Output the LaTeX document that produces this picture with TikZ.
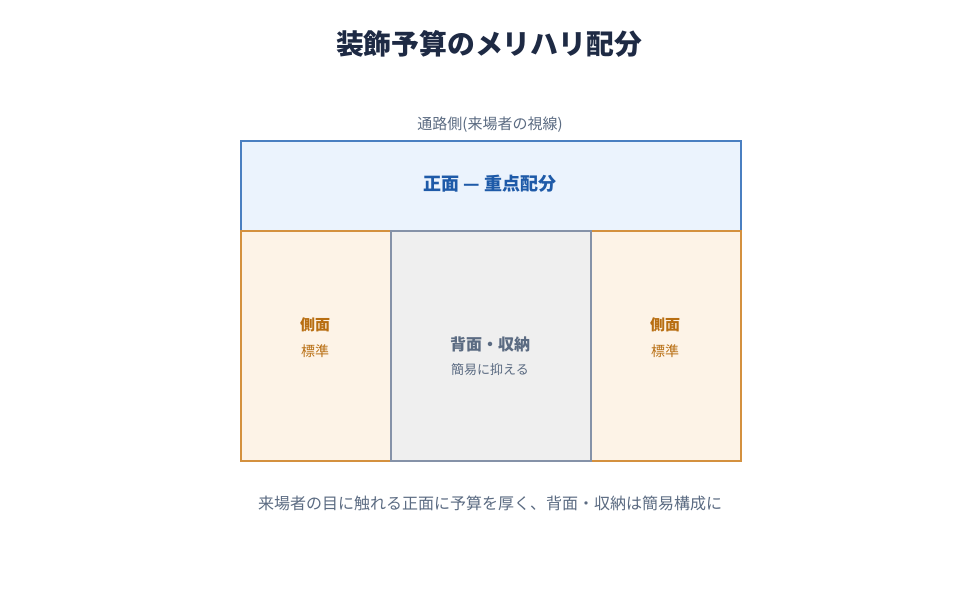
\documentclass[tikz,border=0pt]{standalone}
\usepackage{fontspec}
\setmainfont{Noto Sans CJK JP}
\definecolor{titlec}{HTML}{1E2A44}
\definecolor{grayt}{HTML}{5B6B82}
\definecolor{bluef}{HTML}{EBF3FD}
\definecolor{blues}{HTML}{4A7FC1}
\definecolor{bluet}{HTML}{1E5AA8}
\definecolor{orf}{HTML}{FDF3E7}
\definecolor{ors}{HTML}{D4913F}
\definecolor{ort}{HTML}{B86E12}
\definecolor{grf}{HTML}{EFEFEF}
\definecolor{grs}{HTML}{8592A8}
\tikzset{
  zone/.style={draw, line width=1.8pt, anchor=north west, inner sep=0pt},
  frontzone/.style={zone, fill=bluef, draw=blues},
  sidezone/.style={zone, fill=orf, draw=ors},
  backzone/.style={zone, fill=grf, draw=grs},
  txt/.style={inner sep=0pt, anchor=center},
}
\begin{document}
\begin{tikzpicture}[x=1pt,y=-1pt]
\useasboundingbox[fill=white] (0,0) rectangle (980,600);
\node[txt, text=titlec, font=\bfseries\fontsize{27.8}{30}\selectfont] (title) at (489,44) {装飾予算のメリハリ配分};
\node[txt, text=grayt, font=\fontsize{15}{17}\selectfont] (aisle) at (490,125) {通路側(来場者の視線)};
\node[frontzone, minimum width=500pt, minimum height=90pt] (front) at (240,140) {};
\node[sidezone, minimum width=150pt, minimum height=230pt] (left) at (240,230) {};
\node[sidezone, minimum width=150pt, minimum height=230pt] (right) at (590,230) {};
\node[backzone, minimum width=200pt, minimum height=230pt] (back) at (390,230) {};
\node[txt, text=bluet, font=\bfseries\fontsize{18}{20}\selectfont] (fronttxt) at (490,184) {正面 — 重点配分};
\node[txt, text=ort, font=\bfseries\fontsize{15}{18}\selectfont] (lt1) at (315,325) {側面};
\node[txt, text=ort, font=\fontsize{14}{16}\selectfont] (lt2) at (315,351) {標準};
\node[txt, text=ort, font=\bfseries\fontsize{15}{18}\selectfont] (rt1) at (665,325) {側面};
\node[txt, text=ort, font=\fontsize{14}{16}\selectfont] (rt2) at (665,351) {標準};
\node[txt, text=grayt, font=\bfseries\fontsize{16}{18}\selectfont] (bt1) at (490,344) {背面・収納};
\node[txt, text=grayt, font=\fontsize{13}{15}\selectfont] (bt2) at (490,370) {簡易に抑える};
\node[txt, text=grayt, font=\fontsize{16}{18}\selectfont] (note) at (490,503) {来場者の目に触れる正面に予算を厚く、背面・収納は簡易構成に};
\end{tikzpicture}
\end{document}
